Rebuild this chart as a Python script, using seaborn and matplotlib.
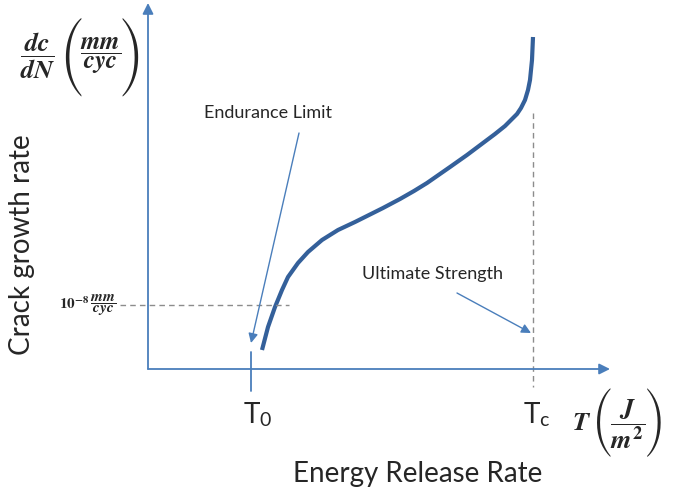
import numpy as np
import pandas as pd
import matplotlib
matplotlib.use("Agg")
import matplotlib.pyplot as plt
import seaborn as sns

# courbe (coordonnées en pixels du schéma)
curve_x = [262, 268, 275, 282, 288, 298, 308, 322, 338, 355, 367, 383, 400,
           414, 427, 450, 467, 483, 495, 505, 512, 517, 521, 525, 528, 530,
           532, 533]
curve_y = [350, 327, 307, 290, 277, 263, 252, 240, 230, 222, 216, 208, 199,
           191, 183, 167, 155, 143, 134, 126, 119, 114, 108, 100, 90, 80,
           60, 37]

# repères du schéma
origin = (148, 369)
x_end = 610
y_end = 3
t0_x = 251
tc_x = 533
limit_y = 305

curve_col = "#34609A"
axis_col = "#4A7EBB"
dash_col = "#8C8C8C"

sns.set_style("white")
plt.rcParams["font.family"] = ["Lato", "DejaVu Sans"]
plt.rcParams["mathtext.fontset"] = "custom"
plt.rcParams["mathtext.rm"] = "Lato"
plt.rcParams["mathtext.it"] = "STIXGeneral:italic:bold"
plt.rcParams["mathtext.bf"] = "STIXGeneral:bold"

fig = plt.figure(figsize=(6.75, 4.91), dpi=100)
ax = fig.add_axes([0, 0, 1, 1])
ax.set_xlim(0, 675)
ax.set_ylim(491, 0)
ax.axis("off")

df = pd.DataFrame({"x": curve_x, "y": curve_y})
sns.lineplot(data=df, x="x", y="y", sort=False, color=curve_col, lw=3,
             ax=ax, solid_capstyle="butt", solid_joinstyle="round")

# axes avec flèches
arrow = dict(arrowstyle="-|>", color=axis_col, lw=1.3, mutation_scale=16,
             shrinkA=0, shrinkB=0)
ax.annotate("", xy=(origin[0], y_end), xytext=origin, arrowprops=arrow)
ax.annotate("", xy=(x_end, origin[1]), xytext=origin, arrowprops=arrow)
ax.plot([t0_x, t0_x], [352, 391], color=axis_col, lw=1.3)

# pointillés
ax.plot([tc_x, tc_x], [113, 387], color=dash_col, lw=1, ls=(0, (4, 3)))
ax.plot([120, 289], [limit_y, limit_y], color=dash_col, lw=1, ls=(0, (4, 3)))

# annotations
thin = dict(arrowstyle="-|>", color=axis_col, lw=1, mutation_scale=14,
            shrinkA=0, shrinkB=0)
ax.text(268, 113, "Endurance Limit", fontsize=13, ha="center", va="center")
ax.annotate("", xy=(251, 343), xytext=(299, 133), arrowprops=thin)
ax.text(432, 274, "Ultimate Strength", fontsize=13, ha="center", va="center")
ax.annotate("", xy=(531, 333), xytext=(457, 293), arrowprops=thin)

# textes des axes
ax.text(22, 245, "Crack growth rate", fontsize=20, rotation=90,
        ha="center", va="center")
ax.text(418, 474, "Energy Release Rate", fontsize=20, ha="center", va="center")
ax.text(258, 415, r"T$_\mathrm{0}$", fontsize=20, ha="center", va="center")
ax.text(537, 415, r"T$_\mathrm{c}$", fontsize=20, ha="center", va="center")

# unités en formules, parenthèses agrandies à part
paren = dict(family="STIXSizeThreeSym", ha="center", va="center")
ax.text(38, 56, r"$\dfrac{dc}{dN}$", fontsize=19, ha="center", va="center")
ax.text(71, 57, "(", fontsize=23, **paren)
ax.text(101, 56, r"$\dfrac{mm}{cyc}$", fontsize=18, ha="center", va="center")
ax.text(131, 57, ")", fontsize=23, **paren)

ax.text(88, 305, r"$\mathbf{10}^{\mathbf{-8}}\,\dfrac{mm}{cyc}$", fontsize=11,
        ha="center", va="center")

ax.text(582, 422, r"$T$", fontsize=19, ha="center", va="center")
ax.text(602, 423, "(", fontsize=20, **paren)
ax.text(628, 424, r"$\dfrac{J}{m^\mathbf{2}}$", fontsize=19,
        ha="center", va="center")
ax.text(655, 423, ")", fontsize=20, **paren)

fig.savefig("out.png", dpi=100)
